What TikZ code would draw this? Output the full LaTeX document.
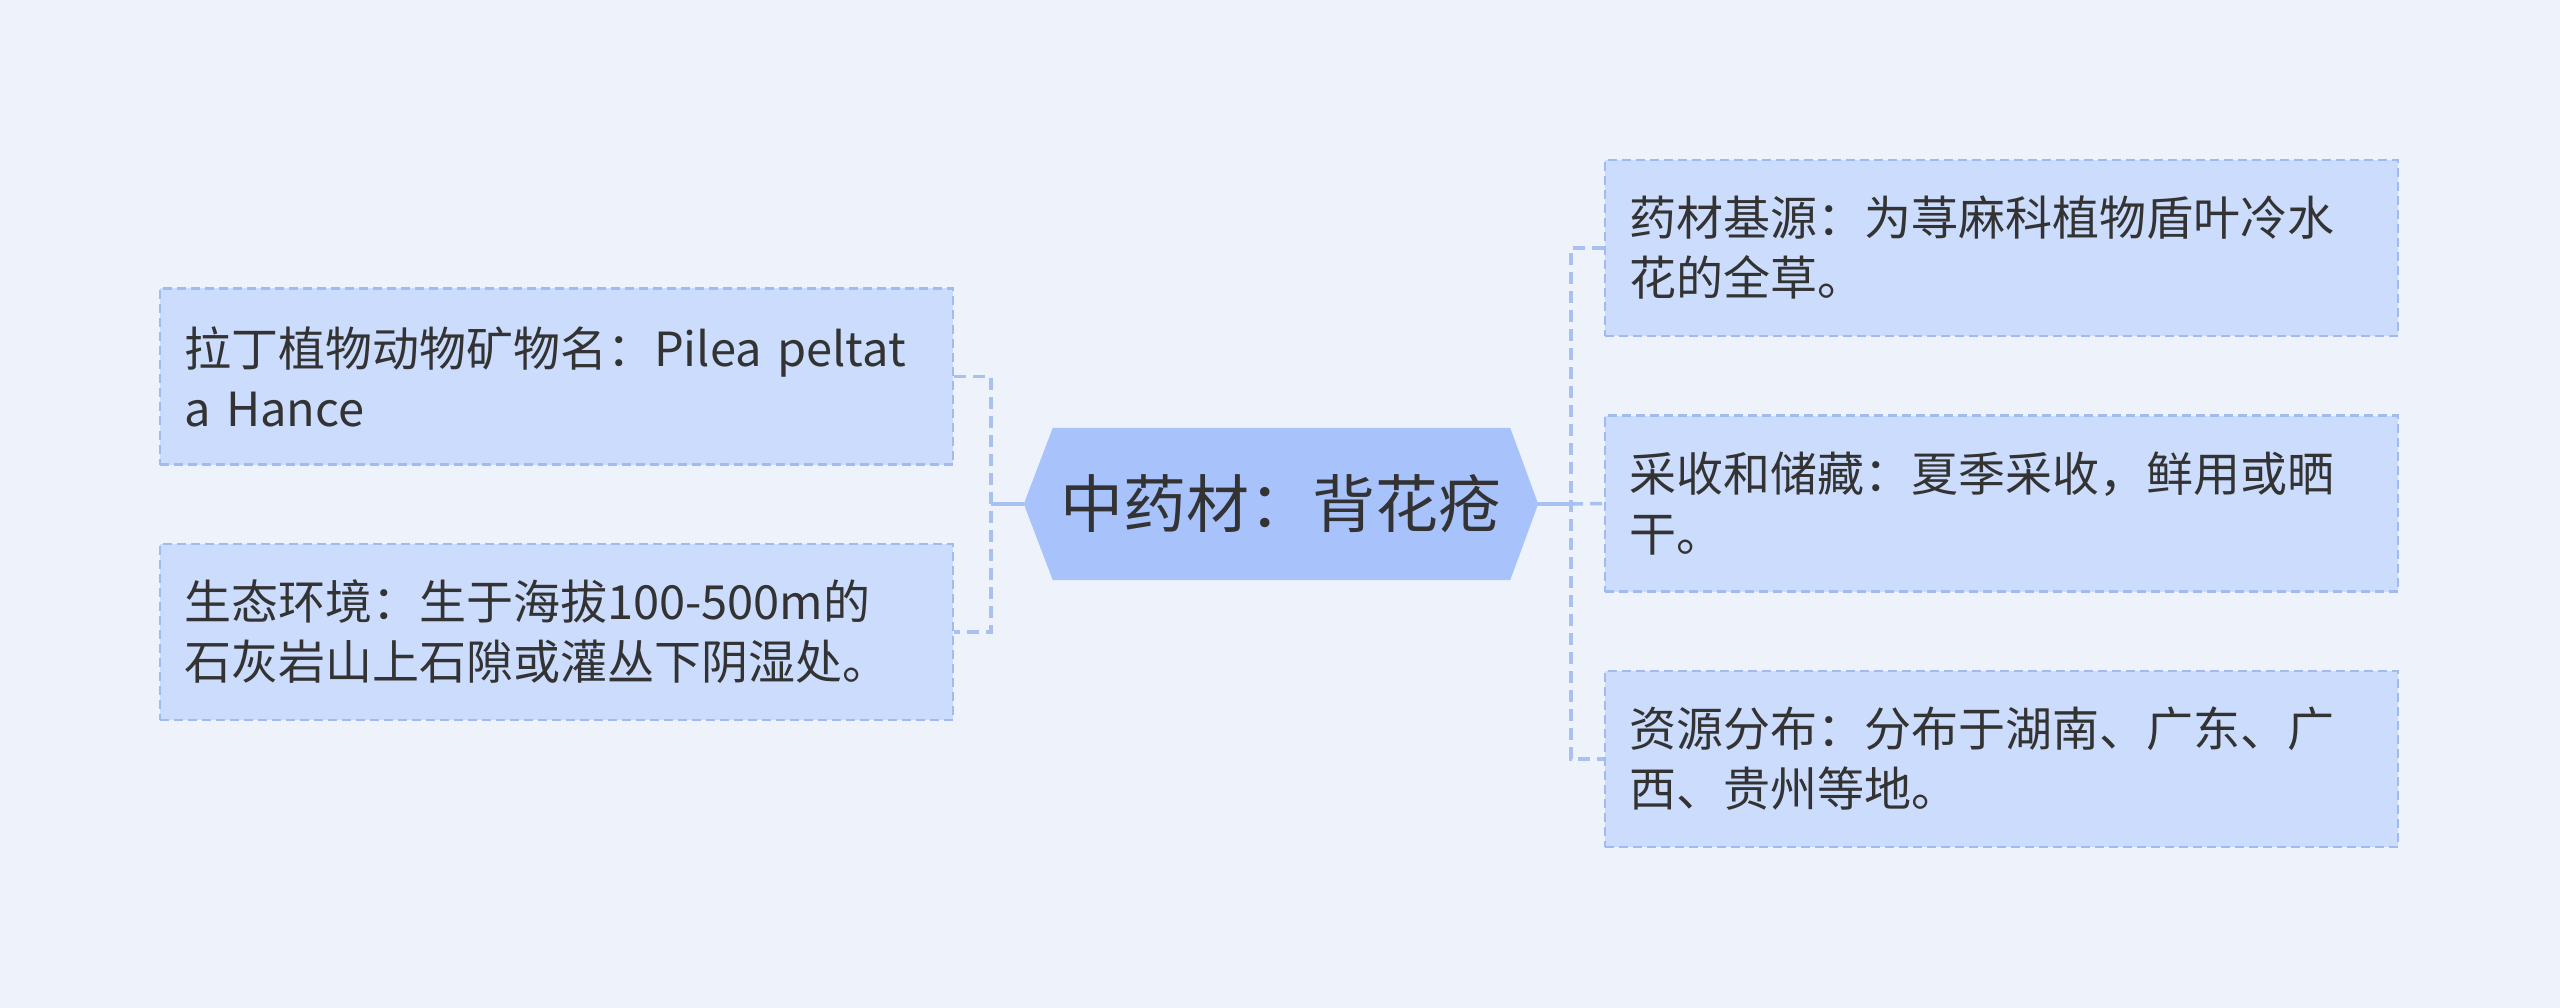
\documentclass[tikz,border=0pt]{standalone}
\usepackage{fontspec}
\setmainfont{Noto Sans CJK SC}
\usetikzlibrary{positioning}
\definecolor{bgc}{RGB}{238,243,251}
\definecolor{leaffill}{RGB}{204,220,252}
\definecolor{leafline}{RGB}{160,187,240}
\definecolor{rootfill}{RGB}{168,194,251}
\definecolor{connc}{RGB}{168,193,240}
\definecolor{txt}{RGB}{51,51,51}
\pgfdeclarelayer{bg}
\pgfsetlayers{bg,main}
\tikzset{
  leaf/.style={draw=leafline, fill=leaffill, line width=2.5pt, dash pattern=on 9pt off 5pt,
    minimum width=793pt, minimum height=176pt, text width=745pt, inner xsep=24pt,
    align=left, font=\fontsize{47pt}{60pt}\selectfont, text=txt},
  root/.style={minimum width=514pt, minimum height=152pt, inner sep=0pt,
    font=\fontsize{63pt}{70pt}\selectfont, text=txt},
  conn/.style={draw=connc, line width=3.5pt, dash pattern=on 12pt off 7pt},
  connsolid/.style={draw=connc, line width=3.5pt}
}
\begin{document}
\begin{tikzpicture}[x=1pt,y=-1pt]
\useasboundingbox (0,0) rectangle (2560,1008);

\node[root] (c) at (1281,504) {中药材：背花疮};
\begin{pgfonlayer}{bg}
\fill[bgc] (0,0) rectangle (2560,1008);
\fill[rootfill] (c.west) -- ([xshift=29pt]c.north west) -- ([xshift=-28pt]c.north east)
  -- (c.east) -- ([xshift=-28pt]c.south east) -- ([xshift=29pt]c.south west) -- cycle;
\end{pgfonlayer}

\node[leaf] (l1) at (556.5,376.5) {拉丁植物动物矿物名：Pilea peltat\\a Hance};
\node[leaf] (l2) at (556.5,632) {生态环境：生于海拔100-500m的\\石灰岩山上石隙或灌丛下阴湿处。};

\node[leaf] (r1) at (2001.5,248) {药材基源：为荨麻科植物盾叶冷水\\花的全草。};
\node[leaf] (r2) at (2001.5,503.5) {采收和储藏：夏季采收，鲜用或晒\\干。};
\node[leaf] (r3) at (2001.5,759) {资源分布：分布于湖南、广东、广\\西、贵州等地。};

\coordinate (lj) at (991,504);
\coordinate (rj) at (1571,504);

\draw[connsolid] (c.west) -- (lj);
\draw[conn] (l1.east) -- (l1.east -| lj) -- (l2.east -| lj) -- (l2.east);

\draw[connsolid] (c.east) -- (rj);
\draw[conn] (r1.west) -- (r1.west -| rj) -- (r3.west -| rj) -- (r3.west);
\draw[conn] (rj) -- (r2.west);
\end{tikzpicture}
\end{document}
